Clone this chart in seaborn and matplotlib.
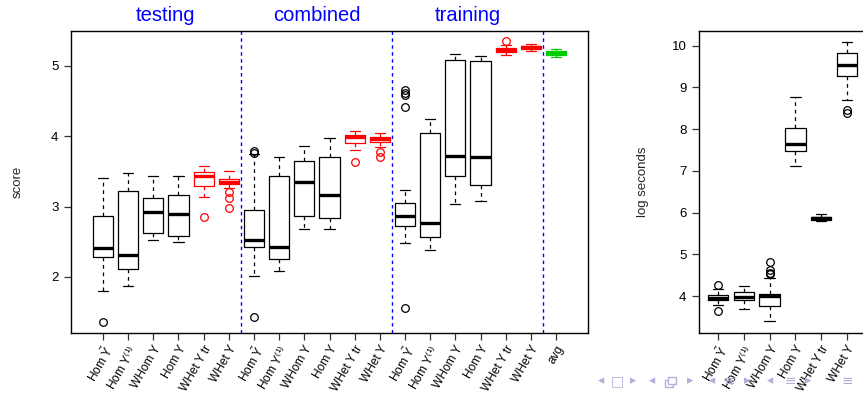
import numpy as np
import pandas as pd
import matplotlib
matplotlib.use("Agg")
import matplotlib.pyplot as plt
from matplotlib.patches import Rectangle
import seaborn as sns

# ---------------- data ----------------
groups = ["testing", "combined", "training"]
methods = [r"Hom $\tilde{Y}$", r"Hom Y$^{(1)}$", "WHom Y", "Hom Y", "WHet Y tr", "WHet Y"]
method_colors = ["k", "k", "k", "k", "r", "r"]
avg_label = "avg"
avg_color = "g"

# score panel (18 method boxes in group order + avg): whisker low, Q1, median, Q3, whisker high
score_whislo = [1.80, 1.866, 2.53, 2.50, 3.142, 3.265,
                2.018, 2.08, 2.687, 2.682, 3.81, 3.848,
                2.482, 2.378, 3.037, 3.075, 5.156, 5.205,
                5.124]
score_q1 = [2.283, 2.108, 2.625, 2.58, 3.299, 3.325,
            2.43, 2.26, 2.862, 2.838, 3.896, 3.919,
            2.724, 2.573, 3.427, 3.303, 5.20, 5.233,
            5.156]
score_med = [2.407, 2.307, 2.923, 2.895, 3.427, 3.355,
             2.525, 2.421, 3.346, 3.171, 3.99, 3.953,
             2.862, 2.772, 3.725, 3.711, 5.228, 5.262,
             5.185]
score_q3 = [2.866, 3.222, 3.128, 3.17, 3.488, 3.395,
            2.957, 3.427, 3.654, 3.706, 4.018, 3.986,
            3.051, 4.038, 5.085, 5.067, 5.256, 5.285,
            5.205]
score_whishi = [3.407, 3.478, 3.435, 3.44, 3.583, 3.50,
                3.74, 3.706, 3.858, 3.976, 4.075, 4.047,
                3.232, 4.246, 5.162, 5.142, 5.294, 5.309,
                5.233]
score_outliers = [[1.364], [], [], [], [2.852], [3.205, 3.115, 2.985],
                  [3.79, 3.76, 1.43], [], [], [], [3.626], [3.777, 3.706],
                  [4.654, 4.616, 4.579, 4.417, 1.563], [], [], [], [5.355], [],
                  []]

# timing panel (6 methods): log seconds
time_colors = ["k", "k", "k", "k", "k", "k"]
time_whislo = [3.794, 3.698, 3.393, 7.12, 5.793, 8.704]
time_q1 = [3.897, 3.897, 3.761, 7.473, 5.834, 9.28]
time_med = [3.953, 3.969, 3.993, 7.657, 5.865, 9.529]
time_q3 = [4.025, 4.089, 4.041, 8.017, 5.896, 9.817]
time_whishi = [4.178, 4.233, 4.433, 8.776, 5.968, 10.096]
time_outliers = [[4.257, 3.633], [], [4.816, 4.617, 4.552, 4.521], [], [], [8.47, 8.378]]


def expand(lo, q1, med, q3, hi, out, k=24):
    """Build a sample whose box-plot summary equals the given five numbers + outliers."""
    low_out = sorted(v for v in out if v < med)
    high_out = sorted(v for v in out if v > med)
    low = low_out + [lo] + [q1] * k
    n_q3 = len(low) - 1 - len(high_out)
    high = [q3] * n_q3 + [hi] + high_out
    return low + [med] + high


def long_frame(keys, cols, lo, q1, med, q3, hi, outs):
    rows = []
    for key, c, a, b, m, d, e, o in zip(keys, cols, lo, q1, med, q3, hi, outs):
        for v in expand(a, b, m, d, e, o):
            rows.append({"key": key, "col": c, "value": v})
    return pd.DataFrame(rows)


score_keys = [f"{g}|{m}" for g in groups for m in methods] + [avg_label]
score_labels = [m for g in groups for m in methods] + [avg_label]
score_cols = [c for g in groups for c in method_colors] + [avg_color]
score_df = long_frame(score_keys, score_cols, score_whislo, score_q1, score_med,
                      score_q3, score_whishi, score_outliers)
time_df = long_frame(methods, time_colors, time_whislo, time_q1, time_med,
                     time_q3, time_whishi, time_outliers)

# ---------------- style ----------------
sns.set_theme(style="ticks")
plt.rcParams["font.family"] = ["Liberation Sans", "DejaVu Sans"]
plt.rcParams["mathtext.fontset"] = "custom"
plt.rcParams["mathtext.rm"] = "Liberation Sans"
plt.rcParams["mathtext.it"] = "Liberation Sans"
plt.rcParams["mathtext.bf"] = "Liberation Sans:bold"

palette = {"k": "black", "r": "#FF0000", "g": "#00CD00"}
box_kw = dict(
    hue="col", palette=palette, fill=False, legend=False, width=0.8, whis=1.5,
    linewidth=0.9,
    whiskerprops=dict(linestyle=(0, (3, 3)), linewidth=0.9),
    capprops=dict(linewidth=0.9),
    medianprops=dict(linewidth=2.4),
    flierprops=dict(marker="o", markersize=5.5, markerfacecolor="none", markeredgewidth=0.9),
)

W, H = 863, 393
fig = plt.figure(figsize=(W / 100, H / 100), dpi=100)
fig.patch.set_facecolor("white")

ax1 = fig.add_axes([71 / W, 1 - 332.5 / H, (588 - 71) / W, (332.5 - 30.7) / H])
ax2 = fig.add_axes([699 / W, 1 - 332.5 / H, (866 - 699) / W, (332.5 - 30.7) / H])

sns.boxplot(data=score_df, x="key", y="value", order=score_keys, ax=ax1, **box_kw)
sns.boxplot(data=time_df, x="key", y="value", order=methods, ax=ax2, **box_kw)

for ax in (ax1, ax2):
    for s in ax.spines.values():
        s.set_visible(True)
        s.set_color("black")
        s.set_linewidth(1.0)
    ax.set_xlabel("")
    ax.tick_params(axis="both", length=5, width=0.9, color="#333333", labelcolor="black")
    ax.tick_params(axis="y", labelsize=9.5, pad=4)
    ax.tick_params(axis="x", labelsize=8.6, pad=3)
    ax.set_facecolor("white")

# left panel
ax1.set_xlim(-1.27, 19.27)
ax1.set_ylim(1.211, 5.498)
ax1.set_yticks([2, 3, 4, 5])
ax1.set_xticks(range(len(score_labels)))
ax1.set_xticklabels(score_labels, rotation=60, ha="right", rotation_mode="anchor")
ax1.set_ylabel("score", fontsize=9.5, labelpad=20)
for xv in [5.5, 11.5, 17.5]:
    ax1.axvline(xv, color="#0000FF", linestyle=(0, (2.5, 2.5)), linewidth=1.0, zorder=0)
for i, g in enumerate(groups):
    ax1.text(6 * i + 2.5, 5.64, g, color="#0000FF", fontsize=14.5,
             ha="center", va="baseline", clip_on=False)

# right panel
ax2.set_xlim(-0.74, 5.74)
ax2.set_ylim(3.129, 10.36)
ax2.set_yticks(range(4, 11))
ax2.set_xticks(range(len(methods)))
ax2.set_xticklabels(methods, rotation=60, ha="right", rotation_mode="anchor")
ax2.set_ylabel("log seconds", fontsize=9.5, labelpad=16)

# beamer navigation symbols
nav_color = "#aeb1d8"
nav = [("◂", 601, 9), ("□", 617, 10), ("▸", 633, 9), ("◂", 652, 9),
       ("▸", 690, 9), ("◂", 712, 9), ("≡", 729, 10), ("▸", 747, 9), ("◂", 770, 9),
       ("≡", 790, 10), ("▸", 808, 9), ("≡", 847, 10)]
for ch, xp, fs in nav:
    fig.text(xp / W, 1 - 381 / H, ch, color=nav_color, fontsize=fs,
             ha="center", va="center", family=["DejaVu Sans", "Noto Sans"])
# the "section" icon (two stacked frames), which no installed font has
for dx, dy in [(0, 0), (3, 3)]:
    fig.add_artist(Rectangle(((665 + dx) / W, 1 - (387 - dy) / H), 8 / W, 7 / H,
                             transform=fig.transFigure, fill=True, facecolor="white",
                             edgecolor=nav_color, linewidth=1.0))

fig.savefig("out.png", dpi=100, facecolor="white")
